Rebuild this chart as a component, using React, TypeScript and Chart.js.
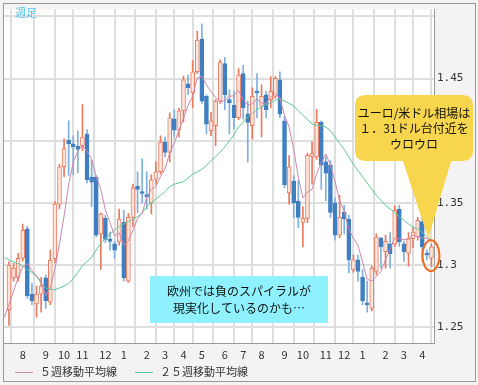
import React, { useEffect, useRef } from 'react';
import { Chart, registerables } from 'chart.js';
Chart.register(...registerables);

// weekly categories (week start dates)
const weeks = [
  '2010-07-05','2010-07-12','2010-07-19','2010-07-26',
  '2010-08-02','2010-08-09','2010-08-16','2010-08-23','2010-08-30',
  '2010-09-06','2010-09-13','2010-09-20','2010-09-27',
  '2010-10-04','2010-10-11','2010-10-18','2010-10-25',
  '2010-11-01','2010-11-08','2010-11-15','2010-11-22','2010-11-29',
  '2010-12-06','2010-12-13','2010-12-20','2010-12-27',
  '2011-01-03','2011-01-10','2011-01-17','2011-01-24','2011-01-31',
  '2011-02-07','2011-02-14','2011-02-21','2011-02-28',
  '2011-03-07','2011-03-14','2011-03-21','2011-03-28',
  '2011-04-04','2011-04-11','2011-04-18','2011-04-25',
  '2011-05-02','2011-05-09','2011-05-16','2011-05-23','2011-05-30',
  '2011-06-06','2011-06-13','2011-06-20','2011-06-27',
  '2011-07-04','2011-07-11','2011-07-18','2011-07-25',
  '2011-08-01','2011-08-08','2011-08-15','2011-08-22','2011-08-29',
  '2011-09-05','2011-09-12','2011-09-19','2011-09-26',
  '2011-10-03','2011-10-10','2011-10-17','2011-10-24','2011-10-31',
  '2011-11-07','2011-11-14','2011-11-21','2011-11-28',
  '2011-12-05','2011-12-12','2011-12-19','2011-12-26',
  '2012-01-02','2012-01-09','2012-01-16','2012-01-23','2012-01-30',
  '2012-02-06','2012-02-13','2012-02-20','2012-02-27',
  '2012-03-05','2012-03-12','2012-03-19','2012-03-26',
  '2012-04-02','2012-04-09','2012-04-16'
];

const opens = [null,
  1.2640,1.2896,1.2896,1.3054,1.3290,1.2765,1.2686,1.2765,1.2896,1.2700,
  1.3050,1.3490,1.3790,1.4005,1.3975,1.3955,1.3960,1.4054,1.3707,1.3707,
  1.3250,1.3375,1.3205,1.3170,1.3186,1.3343,1.2870,1.3383,1.3633,1.3590,
  1.3565,1.3500,1.3690,1.3750,1.3989,1.3905,1.4175,1.4085,1.4240,1.4457,
  1.4384,1.4555,1.4818,1.4357,1.4080,1.4120,1.4318,1.4620,1.4330,1.4286,
  1.4186,1.4540,1.4213,1.4120,1.4397,1.4278,1.4370,1.4331,1.4357,1.4490,
  1.4160,1.3580,1.3675,1.3515,1.3343,1.3375,1.3870,1.3870,1.4147,1.3830,
  1.3804,1.3500,1.3239,1.3423,1.3370,1.2962,1.3041,1.2900,1.2690,1.2650,
  1.2949,1.3217,1.3107,1.3170,1.3170,1.3449,1.3170,1.3093,1.3212,1.3225,
  1.3349,1.3093,1.3054
];
const highs = [null,
  1.3025,1.3014,1.3093,1.3330,1.3310,1.2850,1.2830,1.2900,1.2920,1.3120,
  1.3510,1.3810,1.4015,1.4160,1.4040,1.4080,1.4290,1.4090,1.3840,1.3720,
  1.3420,1.3400,1.3265,1.3190,1.3449,1.3440,1.3415,1.3650,1.3750,1.3857,
  1.3750,1.3725,1.3830,1.4040,1.4030,1.4225,1.4250,1.4260,1.4520,1.4528,
  1.4647,1.4880,1.4940,1.4370,1.4226,1.4330,1.4650,1.4670,1.4410,1.4400,
  1.4580,1.4607,1.4318,1.4426,1.4540,1.4450,1.4400,1.4515,1.4515,1.4555,
  1.4200,1.3880,1.3720,1.3680,1.3470,1.3900,1.3990,1.4252,1.4160,1.3870,
  1.3840,1.3540,1.3560,1.3480,1.3400,1.3080,1.3080,1.2960,1.2870,1.2990,
  1.3250,1.3225,1.3240,1.3260,1.3476,1.3480,1.3190,1.3260,1.3300,1.3383,
  1.3385,1.3120,1.3170
];
const lows = [null,
  1.2514,1.2870,1.2870,1.3030,1.2730,1.2680,1.2580,1.2620,1.2650,1.2680,
  1.3020,1.3450,1.3710,1.3720,1.3725,1.3740,1.3920,1.3660,1.3470,1.3225,
  1.2965,1.3180,1.3120,1.3054,1.3160,1.2870,1.2860,1.3310,1.3420,1.3500,
  1.3449,1.3410,1.3650,1.3730,1.3870,1.3830,1.4030,1.4030,1.4150,1.4370,
  1.4265,1.4540,1.4300,1.4054,1.4040,1.3960,1.4300,1.4250,1.4055,1.4094,
  1.4170,1.4173,1.3830,1.4015,1.4186,1.4030,1.4186,1.4265,1.4340,1.4186,
  1.3620,1.3490,1.3380,1.3300,1.3146,1.3340,1.3650,1.3850,1.3607,1.3517,
  1.3380,1.3200,1.3220,1.3250,1.2935,1.2940,1.2870,1.2680,1.2620,1.2630,
  1.2920,1.2975,1.2975,1.2975,1.3150,1.3150,1.3028,1.2990,1.3140,1.3200,
  1.3033,1.3040,1.2988
];
const closes = [null,
  1.3000,1.2975,1.3054,1.3278,1.2750,1.2712,1.2765,1.2830,1.2712,1.3040,
  1.3490,1.3790,1.3936,1.3975,1.3950,1.3930,1.4030,1.3686,1.3667,1.3240,
  1.3410,1.3205,1.3190,1.3120,1.3370,1.2896,1.3383,1.3620,1.3607,1.3575,
  1.3550,1.3686,1.3750,1.3989,1.3905,1.4185,1.4085,1.4240,1.4489,1.4426,
  1.4555,1.4810,1.4318,1.4133,1.4160,1.4318,1.4633,1.4370,1.4305,1.4186,
  1.4528,1.4265,1.4147,1.4357,1.4384,1.4357,1.4250,1.4397,1.4502,1.4213,
  1.3646,1.3790,1.3502,1.3383,1.3375,1.3883,1.3896,1.4147,1.3804,1.3739,
  1.3423,1.3239,1.3383,1.3370,1.3041,1.3041,1.2949,1.2712,1.2680,1.2975,
  1.3225,1.3146,1.3190,1.3090,1.3440,1.3186,1.3107,1.3212,1.3265,1.3359,
  1.3146,1.3080,1.3146
];
const ma5 = [
  1.2580,1.2680,1.2790,1.2900,1.2985,1.3011,1.2954,1.2912,1.2867,1.2754,
  1.2812,1.2967,1.3172,1.3394,1.3646,1.3828,1.3916,1.3964,1.3914,1.3853,
  1.3711,1.3607,1.3442,1.3342,1.3233,1.3259,1.3156,1.3192,1.3278,1.3375,
  1.3416,1.3547,1.3608,1.3634,1.3710,1.3776,1.3903,1.3983,1.4081,1.4181,
  1.4285,1.4359,1.4504,1.4520,1.4448,1.4395,1.4348,1.4312,1.4323,1.4357,
  1.4362,1.4404,1.4331,1.4286,1.4297,1.4336,1.4302,1.4299,1.4349,1.4378,
  1.4344,1.4202,1.4110,1.3931,1.3707,1.3539,1.3587,1.3608,1.3737,1.3821,
  1.3894,1.3802,1.3670,1.3518,1.3431,1.3291,1.3215,1.3157,1.3023,1.2885,
  1.2871,1.2908,1.2948,1.3043,1.3125,1.3218,1.3210,1.3203,1.3207,1.3242,
  1.3226,1.3218,1.3212,1.3199
];
const ma25 = [
  1.3060,1.3040,1.3025,1.3010,1.2990,1.2960,1.2940,1.2910,1.2855,1.2815,
  1.2805,1.2800,1.2815,1.2830,1.2850,1.2890,1.2940,1.2995,1.3030,1.3060,
  1.3120,1.3175,1.3215,1.3250,1.3280,1.3310,1.3330,1.3350,1.3370,1.3390,
  1.3420,1.3470,1.3500,1.3530,1.3560,1.3590,1.3630,1.3650,1.3660,1.3670,
  1.3700,1.3730,1.3750,1.3770,1.3800,1.3840,1.3870,1.3910,1.3950,1.4000,
  1.4050,1.4110,1.4150,1.4190,1.4220,1.4250,1.4270,1.4290,1.4305,1.4325,
  1.4335,1.4320,1.4300,1.4280,1.4240,1.4205,1.4170,1.4135,1.4125,1.4120,
  1.4110,1.4080,1.4030,1.3980,1.3930,1.3870,1.3810,1.3760,1.3710,1.3660,
  1.3610,1.3560,1.3520,1.3480,1.3450,1.3420,1.3390,1.3360,1.3330,1.3305,
  1.3290,1.3260,1.3225,1.3200
];

const monthTickIdx = [4, 9, 13, 17, 22, 26, 31, 35, 39, 43, 48, 52, 56, 61, 65, 70, 74, 78, 83, 87, 91];
const monthTickLabels = ['8','9','10','11','12','1','2','3','4','5','6','7','8','9','10','11','12','1','2','3','4'];
const priceTicks = [1.25, 1.3, 1.35, 1.4, 1.45, 1.5];

const calloutLines = ['ユーロ/米ドル相場は', '１．31ドル台付近を', 'ウロウロ'];
const noteLines = ['欧州では負のスパイラルが', '現実化しているのかも…'];
const legendItems = [
  { label: '５週移動平均線', color: '#cf86ad' },
  { label: '２５週移動平均線', color: '#5cc995' },
];

const UP = '#ea7b5f';
const UP_FILL = '#fde6dd';
const DOWN = '#3f7fc1';
const DOWN_WICK = '#7fb0dd';
const JP = '"Noto Sans CJK JP", "Noto Sans", sans-serif';

function roundRect(ctx: CanvasRenderingContext2D, x: number, y: number, w: number, h: number, r: number) {
  ctx.beginPath();
  ctx.moveTo(x + r, y);
  ctx.lineTo(x + w - r, y);
  ctx.quadraticCurveTo(x + w, y, x + w, y + r);
  ctx.lineTo(x + w, y + h - r);
  ctx.quadraticCurveTo(x + w, y + h, x + w - r, y + h);
  ctx.lineTo(x + r, y + h);
  ctx.quadraticCurveTo(x, y + h, x, y + h - r);
  ctx.lineTo(x, y + r);
  ctx.quadraticCurveTo(x, y, x + r, y);
  ctx.closePath();
}

const decor = {
  id: 'decor',
  beforeDraw(chart: any) {
    const { ctx, chartArea: a, width, height } = chart;
    ctx.save();
    ctx.fillStyle = '#f3f3f3';
    ctx.fillRect(0, 0, width, height);
    ctx.fillStyle = '#ffffff';
    ctx.fillRect(a.left, a.top, a.right - a.left, a.bottom - a.top);
    ctx.restore();
  },
  afterDraw(chart: any) {
    const { ctx } = chart;
    const xs = chart.scales.x;
    const ys = chart.scales.y;
    ctx.save();
    // label
    ctx.font = `11px ${JP}`;
    ctx.fillStyle = '#4fc3ee';
    ctx.textBaseline = 'middle';
    ctx.textAlign = 'left';
    ctx.fillText('週足', 15, 13);

    // cyan note
    ctx.fillStyle = '#8ef1fd';
    ctx.fillRect(150, 276, 178, 47);
    ctx.fillStyle = '#111';
    ctx.font = `12px ${JP}`;
    ctx.textAlign = 'center';
    noteLines.forEach((t, i) => ctx.fillText(t, 239, 291 + i * 17));

    // callout
    const tipX = xs.getPixelForValue(92.3);
    const tipY = ys.getPixelForValue(1.3215);
    ctx.fillStyle = '#f7d54d';
    roundRect(ctx, 355, 95, 118, 66, 11);
    ctx.fill();
    ctx.beginPath();
    ctx.moveTo(402, 158);
    ctx.lineTo(tipX, tipY);
    ctx.lineTo(452, 158);
    ctx.closePath();
    ctx.fill();
    ctx.fillStyle = '#111';
    ctx.font = `12px ${JP}`;
    ctx.textAlign = 'center';
    calloutLines.forEach((t, i) => ctx.fillText(t, 414, 113 + i * 15.5));

    // ellipse
    ctx.strokeStyle = '#f26b1d';
    ctx.lineWidth = 2;
    ctx.beginPath();
    ctx.ellipse(xs.getPixelForValue(93.0) - 0.5, ys.getPixelForValue(1.3075), 8.5, 15.5, 0, 0, Math.PI * 2);
    ctx.stroke();

    // legend
    ctx.font = `11px ${JP}`;
    ctx.textAlign = 'left';
    ctx.lineWidth = 1;
    const legendX = [15, 135];
    legendItems.forEach((it, i) => {
      const lx = legendX[i];
      ctx.strokeStyle = it.color;
      ctx.beginPath();
      ctx.moveTo(lx, 372.5);
      ctx.lineTo(lx + 18, 372.5);
      ctx.stroke();
      ctx.fillStyle = '#333';
      ctx.fillText(it.label, lx + 25, 372);
    });

    // frame
    ctx.strokeStyle = '#9a9a9a';
    ctx.lineWidth = 1;
    ctx.strokeRect(3.5, 3.5, 472, 378);
    ctx.restore();
  },
};

export default function App() {
  const ref = useRef<HTMLCanvasElement | null>(null);
  useEffect(() => {
    if (!ref.current) return;
    const idx = weeks.map((_, i) => i);
    const cIdx = idx.filter((i) => opens[i] != null);
    const up = (i: number) => (closes[i] as number) >= (opens[i] as number);
    const chart = new Chart(ref.current, {
      type: 'bar',
      data: {
        datasets: [
          {
            type: 'line',
            label: '５週移動平均線',
            data: idx.map((i) => ({ x: i, y: ma5[i] })),
            borderColor: '#cf86ad',
            borderWidth: 1,
            pointRadius: 0,
            tension: 0,
            order: 0,
          } as any,
          {
            type: 'line',
            label: '２５週移動平均線',
            data: idx.map((i) => ({ x: i, y: ma25[i] })),
            borderColor: '#5cc995',
            borderWidth: 1,
            pointRadius: 0,
            tension: 0,
            order: 1,
          } as any,
          {
            label: 'body',
            data: cIdx.map((i) => ({ x: i, y: [opens[i], closes[i]] })),
            backgroundColor: cIdx.map((i) => (up(i) ? UP_FILL : DOWN)),
            borderColor: cIdx.map((i) => (up(i) ? UP : DOWN)),
            borderWidth: 1,
            borderSkipped: false,
            barThickness: 4,
            minBarLength: 2,
            grouped: false,
            order: 2,
          } as any,
          {
            label: 'wick',
            data: cIdx.map((i) => ({ x: i, y: [lows[i], highs[i]] })),
            backgroundColor: cIdx.map((i) => (up(i) ? UP : DOWN_WICK)),
            borderWidth: 0,
            barThickness: 1,
            grouped: false,
            order: 3,
          } as any,
        ],
      },
      options: {
        responsive: false,
        animation: false,
        layout: { padding: { left: 3, top: 3, right: 0, bottom: 0 } },
        plugins: { legend: { display: false }, tooltip: { enabled: false } },
        scales: {
          x: {
            type: 'linear',
            min: -0.3,
            max: 93.55,
            offset: false,
            afterBuildTicks: (s: any) => {
              s.ticks = monthTickIdx.map((v) => ({ value: v }));
            },
            afterFit: (s: any) => {
              s.height = 42;
            },
            ticks: {
              autoSkip: false,
              maxRotation: 0,
              padding: 5,
              color: '#333',
              font: { family: JP, size: 11 },
              callback: (v: any) => {
                const k = monthTickIdx.indexOf(Number(v));
                return k >= 0 ? monthTickLabels[k] : '';
              },
            },
            grid: { color: '#dedede', lineWidth: 2, drawTicks: false },
            border: { display: true, color: '#9a9a9a', width: 1 },
          },
          y: {
            type: 'linear',
            position: 'right',
            min: 1.2372,
            max: 1.5055,
            afterBuildTicks: (s: any) => {
              s.ticks = priceTicks.map((v) => ({ value: v }));
            },
            afterFit: (s: any) => {
              s.width = 44;
            },
            ticks: {
              padding: 3,
              color: '#333',
              font: { family: '"DejaVu Sans Mono", monospace', size: 11 },
              callback: (v: any) => (Number(v) >= 1.5 ? '' : String(Number(Number(v).toFixed(2)))),
            },
            grid: { color: '#dedede', lineWidth: 2, drawTicks: false },
            border: { display: true, color: '#9a9a9a', width: 1 },
          },
        },
      },
      plugins: [decor],
    } as any);
    return () => chart.destroy();
  }, []);
  return (
    <div style={{ position: 'absolute', left: 0, top: 0, width: 478, height: 385 }}>
      <canvas ref={ref} width={478} height={385} style={{ width: 478, height: 385 }} />
    </div>
  );
}
